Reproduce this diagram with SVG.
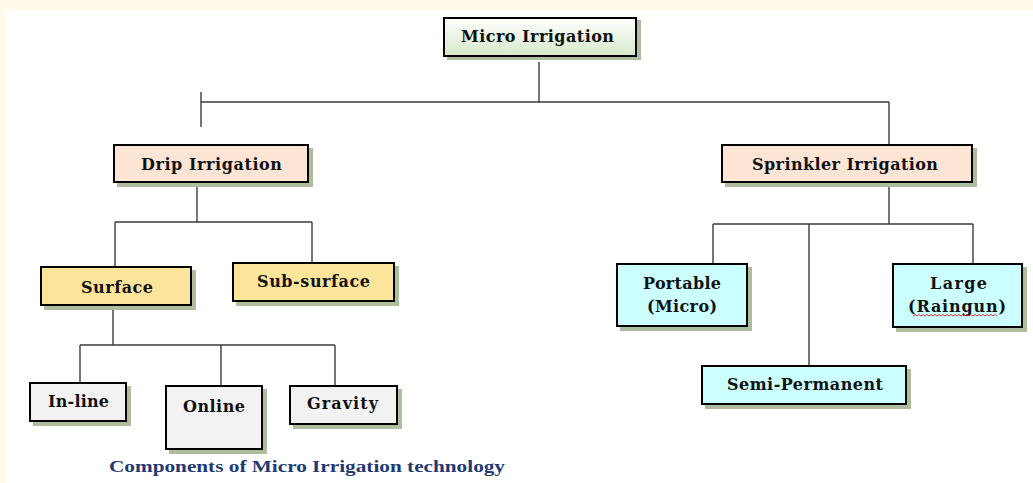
<svg xmlns="http://www.w3.org/2000/svg" width="1033" height="483" viewBox="0 0 1033 483">
<defs>
<linearGradient id="gGreen" x1="0" y1="0" x2="0" y2="1">
<stop offset="0" stop-color="#ffffff"/>
<stop offset="1" stop-color="#d6e9c9"/>
</linearGradient>
<style>
.box{stroke:#000;stroke-width:2}
.sh{fill:#aebd9e}
.peach{fill:#fde5d6}
.yellow{fill:#fde49b}
.cyan{fill:#ccffff}
.gray{fill:#f2f2f2}
.t{font-family:"DejaVu Serif","Liberation Serif",serif;font-weight:bold;font-size:16px;fill:#111}
.conn{stroke:#3c3c3c;stroke-width:1.4;fill:none}
.cap{font-family:"Liberation Serif","Times New Roman",serif;font-weight:bold;font-size:17px;fill:#1f3a73}
</style>
</defs>
<rect x="0" y="0" width="1033" height="483" fill="#fffbe8"/>
<rect x="6" y="10" width="1027" height="473" fill="#ffffff"/>

<g id="connectors">
<path class="conn" d="M539 62V102 M201 92V127 M201 102H889 M889 102V144"/>
<path class="conn" d="M197 183V222 M115 222H312 M115 222V266 M312 222V262"/>
<path class="conn" d="M113 306V345 M80 345H335 M80 345V382 M221 345V385 M335 345V385"/>
<path class="conn" d="M889 183V224 M713 224H973 M713 224V263 M809 224V365 M973 224V263"/>
</g>

<g id="micro">
<rect class="sh" x="447" y="20" width="194" height="40"/>
<rect class="box" x="444" y="18" width="192" height="38" fill="url(#gGreen)"/>
<text class="t" x="461" y="42" textLength="153" lengthAdjust="spacing">Micro Irrigation</text>
</g>

<g id="drip">
<rect class="sh" x="117" y="148" width="196" height="39"/>
<rect class="box peach" x="114" y="145" width="194" height="37"/>
<text class="t" x="141" y="170" textLength="141" lengthAdjust="spacing">Drip Irrigation</text>
</g>

<g id="sprinkler">
<rect class="sh" x="725" y="148" width="252" height="39"/>
<rect class="box peach" x="722" y="145" width="250" height="37"/>
<text class="t" x="752" y="170" textLength="186" lengthAdjust="spacing">Sprinkler Irrigation</text>
</g>

<g id="surface">
<rect class="sh" x="44" y="270" width="152" height="40"/>
<rect class="box yellow" x="41" y="267" width="150" height="38"/>
<text class="t" x="81" y="293" textLength="72" lengthAdjust="spacing">Surface</text>
</g>

<g id="subsurface">
<rect class="sh" x="236" y="266" width="163" height="40"/>
<rect class="box yellow" x="233" y="263" width="161" height="38"/>
<text class="t" x="257" y="287" textLength="113" lengthAdjust="spacing">Sub-surface</text>
</g>

<g id="inline">
<rect class="sh" x="33" y="386" width="98" height="40"/>
<rect class="box gray" x="30" y="383" width="96" height="38"/>
<text class="t" x="48" y="407" textLength="61" lengthAdjust="spacing">In-line</text>
</g>

<g id="online">
<rect class="sh" x="169" y="389" width="98" height="65"/>
<rect class="box gray" x="166" y="386" width="96" height="63"/>
<text class="t" x="183" y="412" textLength="62" lengthAdjust="spacing">Online</text>
</g>

<g id="gravity">
<rect class="sh" x="293" y="389" width="109" height="40"/>
<rect class="box gray" x="290" y="386" width="107" height="38"/>
<text class="t" x="307" y="409" textLength="71" lengthAdjust="spacing">Gravity</text>
</g>

<g id="portable">
<rect class="sh" x="620" y="267" width="132" height="64"/>
<rect class="box cyan" x="617" y="264" width="130" height="62"/>
<text class="t" x="643" y="289" textLength="78" lengthAdjust="spacing">Portable</text>
<text class="t" x="647" y="312" textLength="70" lengthAdjust="spacing">(Micro)</text>
</g>

<g id="large">
<rect class="sh" x="896" y="267" width="131" height="65"/>
<rect class="box cyan" x="893" y="264" width="129" height="63"/>
<text class="t" x="930" y="289" textLength="57" lengthAdjust="spacing">Large</text>
<text class="t" x="908" y="312" textLength="98" lengthAdjust="spacing">(Raingun)</text>
<path d="M913 316 l2 -1.5 l2 1.5 l2 -1.5 l2 1.5 l2 -1.5 l2 1.5 l2 -1.5 l2 1.5 l2 -1.5 l2 1.5 l2 -1.5 l2 1.5 l2 -1.5 l2 1.5 l2 -1.5 l2 1.5 l2 -1.5 l2 1.5 l2 -1.5 l2 1.5 l2 -1.5 l2 1.5 l2 -1.5 l2 1.5 l2 -1.5 l2 1.5 l2 -1.5 l2 1.5 l2 -1.5 l2 1.5 l2 -1.5 l2 1.5 l2 -1.5 l2 1.5 l2 -1.5 l2 1.5 l2 -1.5 l2 1.5 l2 -1.5 l2 1.5 l2 -1.5 l2 1.5" fill="none" stroke="#e02020" stroke-width="0.9"/>
</g>

<g id="semipermanent">
<rect class="sh" x="705" y="369" width="206" height="40"/>
<rect class="box cyan" x="702" y="366" width="204" height="38"/>
<text class="t" x="727" y="390" textLength="156" lengthAdjust="spacing">Semi-Permanent</text>
</g>

<text class="cap" x="109" y="472" textLength="396" lengthAdjust="spacingAndGlyphs">Components of Micro Irrigation technology</text>
</svg>
